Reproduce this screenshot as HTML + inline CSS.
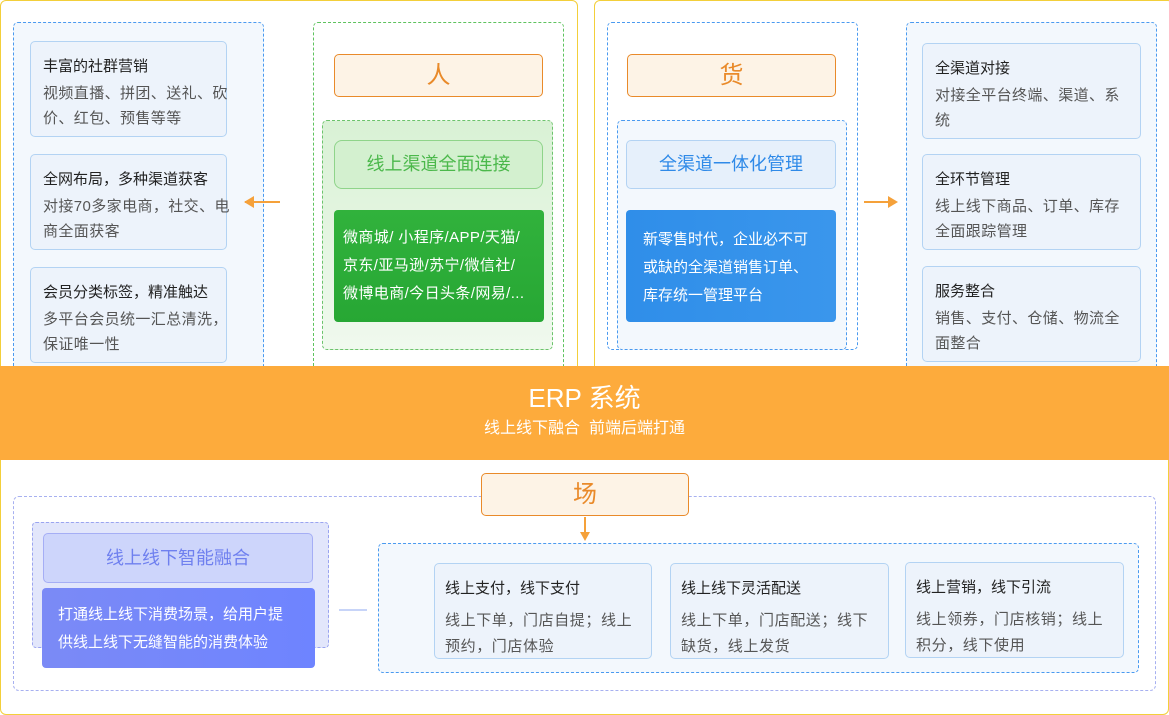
<!DOCTYPE html>
<html><head><meta charset="utf-8"><style>
*{box-sizing:border-box;margin:0;padding:0}
body{width:1169px;height:715px;position:relative;overflow:hidden;background:#fff;font-family:"Liberation Sans","Noto Sans CJK SC",sans-serif;color:#333}
.a{position:absolute}
.card{position:absolute;background:#edf3fb;border:1px solid #b3d3f3;border-radius:5px;padding:14px 0 0 12px;white-space:nowrap}
.card b{display:block;font-weight:normal;font-size:15px;color:#222;line-height:22px;margin-bottom:3px}
.card p{font-size:15px;color:#555;line-height:25px;letter-spacing:0.4px}
.bc{position:absolute;background:#edf3fb;border:1px solid #b3d3f3;border-radius:5px;padding:14px 0 0 10px;white-space:nowrap}
.bc b{display:block;font-weight:normal;font-size:15px;color:#222;line-height:22px;margin-bottom:8px}
.bc p{font-size:15px;color:#555;line-height:26px;letter-spacing:0.6px}
</style></head><body>
<div class="a" style="left:0;top:0;width:578px;height:380px;border:1px solid #f3cf3a;border-radius:6px"></div>
<div class="a" style="left:594px;top:0;width:580px;height:380px;border:1px solid #f3cf3a;border-radius:6px"></div>
<div class="a" style="left:0;top:450px;width:1169px;height:265px;border:1px solid #f3cf3a;border-radius:6px"></div>

<div class="a" style="left:13px;top:22px;width:251px;height:350px;border:1px dashed #4a9af0;border-radius:5px;background:#f3f8fd"></div>
<div class="card" style="left:30px;top:41px;width:197px;height:96px"><b>丰富的社群营销</b><p>视频直播、拼团、送礼、砍<br>价、红包、预售等等</p></div>
<div class="card" style="left:30px;top:154px;width:197px;height:96px"><b>全网布局，多种渠道获客</b><p>对接70多家电商，社交、电<br>商全面获客</p></div>
<div class="card" style="left:30px;top:267px;width:197px;height:96px"><b>会员分类标签，精准触达</b><p>多平台会员统一汇总清洗，<br>保证唯一性</p></div>
<div class="a" style="left:245px;top:201px;width:35px;height:2px;background:#f5a13a"></div>
<div class="a" style="left:244px;top:196px;border-right:10px solid #f5a13a;border-top:6px solid transparent;border-bottom:6px solid transparent"></div>

<div class="a" style="left:313px;top:22px;width:251px;height:350px;border:1px dashed #5fc35f;border-radius:5px"></div>
<div class="a" style="left:334px;top:54px;width:209px;height:43px;border:1px solid #e98a2a;border-radius:5px;background:#fdf3e6;color:#e98a2a;font-size:24px;text-align:center;line-height:41px">人</div>
<div class="a" style="left:322px;top:120px;width:231px;height:230px;border:1px dashed #6cc36c;border-radius:5px;background:linear-gradient(#d9f1d5,#f0f9ee)"></div>
<div class="a" style="left:334px;top:140px;width:209px;height:49px;border:1px solid #8fd48a;border-radius:8px;background:#d3f0cf;color:#4bb84b;font-size:18px;text-align:center;line-height:47px">线上渠道全面连接</div>
<div class="a" style="left:334px;top:210px;width:210px;height:112px;border-radius:4px;background:linear-gradient(#31b23c,#27a734);color:#fff;font-size:15px;line-height:28px;padding:14px 0 0 9px;white-space:nowrap;letter-spacing:0.4px">微商城/ 小程序/APP/天猫/<br>京东/亚马逊/苏宁/微信社/<br>微博电商/今日头条/网易/...</div>

<div class="a" style="left:607px;top:22px;width:251px;height:328px;border:1px dashed #4a9af0;border-radius:5px"></div>
<div class="a" style="left:627px;top:54px;width:209px;height:43px;border:1px solid #e98a2a;border-radius:5px;background:#fdf3e6;color:#e98a2a;font-size:24px;text-align:center;line-height:41px">货</div>
<div class="a" style="left:617px;top:120px;width:230px;height:230px;border:1px dashed #4a9af0;border-radius:5px;background:#f3f8fd"></div>
<div class="a" style="left:626px;top:140px;width:210px;height:49px;border:1px solid #b3d3f3;border-radius:5px;background:#e6f0fb;color:#2f8ae8;font-size:18px;text-align:center;line-height:47px">全渠道一体化管理</div>
<div class="a" style="left:626px;top:210px;width:210px;height:112px;border-radius:4px;background:linear-gradient(90deg,#2f8ee9,#3a96ec);color:#fff;font-size:15px;line-height:28px;padding:16px 0 0 17px;white-space:nowrap">新零售时代，企业必不可<br>或缺的全渠道销售订单、<br>库存统一管理平台</div>
<div class="a" style="left:864px;top:201px;width:26px;height:2px;background:#f5a13a"></div>
<div class="a" style="left:888px;top:196px;border-left:10px solid #f5a13a;border-top:6px solid transparent;border-bottom:6px solid transparent"></div>

<div class="a" style="left:906px;top:22px;width:251px;height:350px;border:1px dashed #4a9af0;border-radius:5px;background:#f3f8fd"></div>
<div class="card" style="left:922px;top:43px;width:219px;height:96px"><b>全渠道对接</b><p>对接全平台终端、渠道、系<br>统</p></div>
<div class="card" style="left:922px;top:154px;width:219px;height:96px"><b>全环节管理</b><p>线上线下商品、订单、库存<br>全面跟踪管理</p></div>
<div class="card" style="left:922px;top:266px;width:219px;height:96px"><b>服务整合</b><p>销售、支付、仓储、物流全<br>面整合</p></div>

<div class="a" style="left:0;top:366px;width:1169px;height:94px;background:#fdab3c;color:#fff;text-align:center">
<div style="font-size:26px;line-height:30px;margin-top:17px">ERP 系统</div>
<div style="font-size:16px;line-height:22px;margin-top:5px">线上线下融合 &nbsp;前端后端打通</div></div>

<div class="a" style="left:13px;top:496px;width:1143px;height:195px;border:1px dashed #a7b0f0;border-radius:6px"></div>
<div class="a" style="left:481px;top:473px;width:208px;height:43px;border:1px solid #e98a2a;border-radius:5px;background:#fdf3e6;color:#e98a2a;font-size:24px;text-align:center;line-height:41px">场</div>
<div class="a" style="left:584px;top:517px;width:2px;height:16px;background:#f5a13a"></div>
<div class="a" style="left:580px;top:532px;border-top:9px solid #f5a13a;border-left:5px solid transparent;border-right:5px solid transparent"></div>

<div class="a" style="left:32px;top:522px;width:297px;height:126px;border:1px dashed #9aa4f0;border-radius:4px;background:#e2e6fb"></div>
<div class="a" style="left:43px;top:533px;width:270px;height:50px;border:1px solid #a5aef5;border-radius:5px;background:#cdd5fb;color:#6f80ef;font-size:18px;text-align:center;line-height:48px">线上线下智能融合</div>
<div class="a" style="left:42px;top:588px;width:273px;height:80px;border-radius:4px;background:linear-gradient(90deg,#7b8af6,#6e84ff);color:#fff;font-size:15px;line-height:28px;padding:13px 0 0 16px;white-space:nowrap">打通线上线下消费场景，给用户提<br>供线上线下无缝智能的消费体验</div>
<div class="a" style="left:339px;top:609px;width:28px;height:2px;background:#c7d4f8"></div>

<div class="a" style="left:378px;top:543px;width:761px;height:130px;border:1px dashed #4a9af0;border-radius:5px;background:#f3f8fd"></div>
<div class="bc" style="left:434px;top:563px;width:218px;height:96px"><b>线上支付，线下支付</b><p>线上下单，门店自提；线上<br>预约，门店体验</p></div>
<div class="bc" style="left:670px;top:563px;width:219px;height:96px"><b>线上线下灵活配送</b><p>线上下单，门店配送；线下<br>缺货，线上发货</p></div>
<div class="bc" style="left:905px;top:562px;width:219px;height:96px"><b>线上营销，线下引流</b><p>线上领券，门店核销；线上<br>积分，线下使用</p></div>
</body></html>
